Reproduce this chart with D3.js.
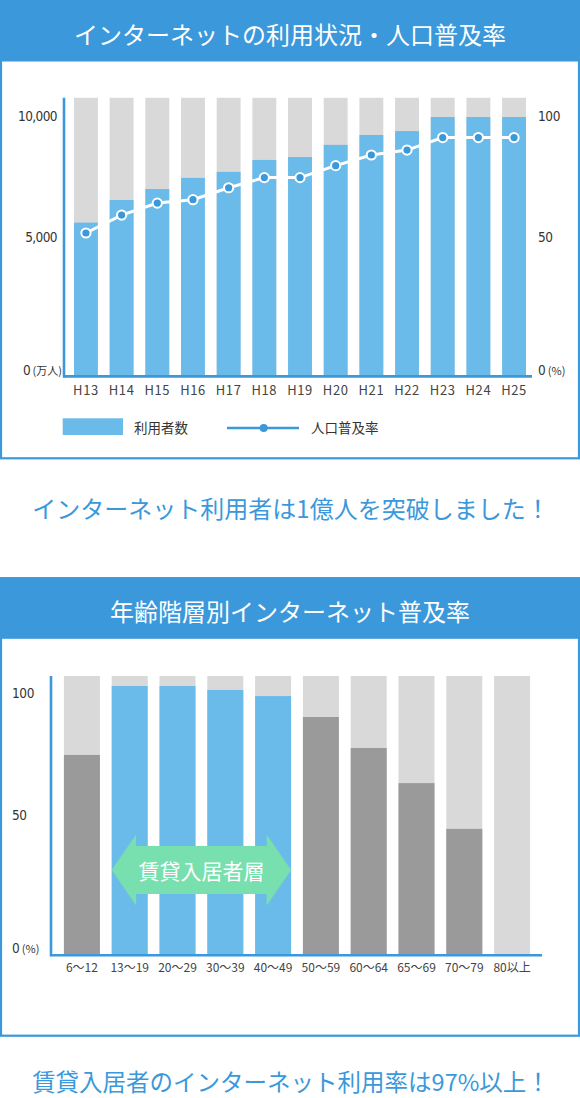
<!DOCTYPE html>
<html>
<head>
<meta charset="utf-8">
<script src="https://cdn.jsdelivr.net/npm/d3@7"></script>
<style>
  body { margin: 0; background: #fff; }
  svg { display: block; font-family: "Noto Sans CJK JP", "Noto Sans", sans-serif; }
</style>
</head>
<body>
<svg id="chart" width="580" height="1098"></svg>
<script>
// ---- data ----
var years = ["H13", "H14", "H15", "H16", "H17", "H18", "H19", "H20", "H21", "H22", "H23", "H24", "H25"];
var users = [5900, 6770, 7190, 7620, 7850, 8310, 8420, 8890, 9270, 9420, 9960, 9960, 9960];   // 万人
var rates = [55.0, 61.9, 66.5, 67.8, 72.4, 76.3, 76.3, 80.9, 85.0, 86.9, 91.7, 91.7, 91.7];     // %
var userMax = 10700;
var userTicks = [0, 5000, 10000];
var rateTicks = [0, 50, 100];

var ageGroups = ["6〜12", "13〜19", "20〜29", "30〜39", "40〜49", "50〜59", "60〜64", "65〜69", "70〜79", "80以上"];
var ageRates = [71.7, 96.4, 96.4, 95.0, 92.8, 85.3, 74.2, 61.6, 45.2, 0];
var renterGroups = ["13〜19", "20〜29", "30〜39", "40〜49"];
var ageTicks = [0, 50, 100];

// ---- colours ----
var blue = "#3a98db";
var barBlue = "#6bbbea";
var gray = "#d9d9d9";
var darkGray = "#9a9a9a";
var mint = "#78dfae";
var textColor = "#333";
var tickFont = '"Liberation Sans Narrow", "DejaVu Sans Condensed", Roboto, sans-serif';

var svg = d3.select("#chart");

// Panel with a blue header and a blue outline
function drawPanel(y0, h, title) {
    svg.append("rect")
        .attr("x", 1).attr("y", y0 + 1)
        .attr("width", 578).attr("height", h)
        .attr("fill", "#fff")
        .attr("stroke", blue).attr("stroke-width", 2.2);
    svg.append("rect")
        .attr("x", 0).attr("y", y0)
        .attr("width", 580).attr("height", 61.5)
        .attr("fill", blue);
    svg.append("text")
        .attr("x", 290).attr("y", y0 + 33)
        .attr("text-anchor", "middle")
        .attr("dominant-baseline", "central")
        .attr("fill", "#fff")
        .attr("font-size", 24)
        .text(title);
}

// Style the tick labels of an axis group
function styleTicks(g, size, anchor) {
    g.select(".domain").remove();
    g.attr("font-family", null).attr("font-size", null);
    g.selectAll("text")
        .attr("fill", textColor)
        .attr("font-size", size)
        .attr("text-anchor", anchor);
}

// =========== top chart ===========
drawPanel(0, 457.3, "インターネットの利用状況・人口普及率");

var xTop = d3.scaleBand()
    .domain(years)
    .range([64, 536])
    .paddingInner(0.33)
    .paddingOuter(0.28);
var bwTop = xTop.bandwidth();

var yUsers = d3.scaleLinear().domain([0, 10000]).range([376, 116]);
var yRate = d3.scaleLinear().domain([0, 100]).range([376, 116]);

// the tick labels in the reference sit a little off the bar scale
var yUsersLabel = d3.scaleLinear().domain([0, 5000, 10000]).range([370, 237, 116]);
var yRateLabel = d3.scaleLinear().domain([0, 50, 100]).range([370, 237, 116]);

var topData = years.map(function(y, i) {
    return {year: y, users: users[i], rate: rates[i]};
});

var topG = svg.append("g");

// background (max) bars
topG.append("g").attr("fill", gray)
    .selectAll("rect")
    .data(topData)
    .enter()
    .append("rect")
    .attr("x", function(d) { return xTop(d.year); })
    .attr("y", yUsers(userMax))
    .attr("width", bwTop)
    .attr("height", yUsers(0) - yUsers(userMax));

// user bars
topG.append("g").attr("fill", barBlue)
    .selectAll("rect")
    .data(topData)
    .enter()
    .append("rect")
    .attr("x", function(d) { return xTop(d.year); })
    .attr("y", function(d) { return yUsers(d.users); })
    .attr("width", bwTop)
    .attr("height", function(d) { return yUsers(0) - yUsers(d.users); });

// axis lines
topG.append("line")
    .attr("x1", 64).attr("x2", 64)
    .attr("y1", yUsers(userMax)).attr("y2", 377.5)
    .attr("stroke", blue).attr("stroke-width", 2.6);
topG.append("line")
    .attr("x1", 63).attr("x2", 532)
    .attr("y1", 376.4).attr("y2", 376.4)
    .attr("stroke", blue).attr("stroke-width", 2.6);

// penetration line
var rateLine = d3.line()
    .x(function(d) { return xTop(d.year) + bwTop / 2; })
    .y(function(d) { return yRate(d.rate); });

topG.append("path")
    .datum(topData)
    .attr("d", rateLine)
    .attr("fill", "none")
    .attr("stroke", "#fff")
    .attr("stroke-width", 3);

topG.append("g")
    .selectAll("circle")
    .data(topData)
    .enter()
    .append("circle")
    .attr("cx", function(d) { return xTop(d.year) + bwTop / 2; })
    .attr("cy", function(d) { return yRate(d.rate); })
    .attr("r", 4.6)
    .attr("fill", blue)
    .attr("stroke", "#fff")
    .attr("stroke-width", 2);

// left axis labels
var leftAxis = topG.append("g")
    .attr("transform", "translate(57,0)")
    .call(d3.axisLeft(yUsersLabel).tickValues(userTicks).tickSize(0).tickPadding(0)
        .tickFormat(d3.format(",")));
styleTicks(leftAxis, 13.5, "end");
leftAxis.selectAll("text").attr("font-family", tickFont).attr("letter-spacing", -0.6);
leftAxis.selectAll(".tick").filter(function(d) { return d === 0; })
    .select("text")
    .attr("x", 5)
    .append("tspan").attr("font-size", 11).attr("letter-spacing", 0)
    .attr("font-family", "Noto Sans CJK JP").text(" (万人)");

// right axis labels
var rightAxis = topG.append("g")
    .attr("transform", "translate(538,0)")
    .call(d3.axisRight(yRateLabel).tickValues(rateTicks).tickSize(0).tickPadding(0));
styleTicks(rightAxis, 13.5, "start");
rightAxis.selectAll("text").attr("font-family", tickFont).attr("letter-spacing", -0.4);
rightAxis.selectAll(".tick").filter(function(d) { return d === 0; })
    .select("text")
    .append("tspan").attr("font-size", 11).attr("letter-spacing", 0)
    .attr("font-family", "Noto Sans CJK JP").text(" (%)");

// year labels
var xAxisTop = topG.append("g")
    .attr("transform", "translate(0,376)")
    .call(d3.axisBottom(xTop).tickSize(0).tickPadding(9.5));
styleTicks(xAxisTop, 13, "middle");
xAxisTop.selectAll("text").attr("fill", "#444").attr("letter-spacing", 0.6);

// legend
var legend = svg.append("g").attr("font-size", 13.5).attr("fill", textColor);
legend.append("rect")
    .attr("x", 62.7).attr("y", 418.3)
    .attr("width", 60.3).attr("height", 16.7)
    .attr("fill", barBlue);
legend.append("text")
    .attr("x", 134).attr("y", 427)
    .attr("dominant-baseline", "central")
    .text("利用者数");
legend.append("line")
    .attr("x1", 227).attr("x2", 299)
    .attr("y1", 428).attr("y2", 428)
    .attr("stroke", blue).attr("stroke-width", 2.4);
legend.append("circle")
    .attr("cx", 263.7).attr("cy", 428).attr("r", 4)
    .attr("fill", blue);
legend.append("text")
    .attr("x", 311).attr("y", 427)
    .attr("dominant-baseline", "central")
    .text("人口普及率");

svg.append("text")
    .attr("x", 291).attr("y", 507.5)
    .attr("text-anchor", "middle")
    .attr("dominant-baseline", "central")
    .attr("fill", blue)
    .attr("font-size", 24)
    .text("インターネット利用者は1億人を突破しました！");

// =========== bottom chart ===========
drawPanel(577.3, 457.4, "年齢階層別インターネット普及率");

var xAge = d3.scaleBand()
    .domain(ageGroups)
    .range([51, 543])
    .paddingInner(0.247)
    .paddingOuter(0.27);
var bwAge = xAge.bandwidth();

var yAge = d3.scaleLinear().domain([0, 100]).range([955, 676]);
var yAgeLabel = d3.scaleLinear().domain([0, 50, 100]).range([948, 815, 693]);

var ageData = ageGroups.map(function(a, i) {
    return {group: a, rate: ageRates[i], renter: renterGroups.indexOf(a) >= 0};
});

var bottomG = svg.append("g");

bottomG.append("g").attr("fill", gray)
    .selectAll("rect")
    .data(ageData)
    .enter()
    .append("rect")
    .attr("x", function(d) { return xAge(d.group); })
    .attr("y", yAge(100))
    .attr("width", bwAge)
    .attr("height", yAge(0) - yAge(100));

bottomG.append("g")
    .selectAll("rect")
    .data(ageData)
    .enter()
    .append("rect")
    .attr("x", function(d) { return xAge(d.group); })
    .attr("y", function(d) { return yAge(d.rate); })
    .attr("width", bwAge)
    .attr("height", function(d) { return yAge(0) - yAge(d.rate); })
    .attr("fill", function(d) { return d.renter ? barBlue : darkGray; });

bottomG.append("line")
    .attr("x1", 51).attr("x2", 51)
    .attr("y1", yAge(100)).attr("y2", 956.3)
    .attr("stroke", blue).attr("stroke-width", 2.6);
bottomG.append("line")
    .attr("x1", 50).attr("x2", 542)
    .attr("y1", 955.2).attr("y2", 955.2)
    .attr("stroke", blue).attr("stroke-width", 2.6);

// arrow over the renter age groups
var arrowL = xAge(renterGroups[0]);
var arrowR = xAge(renterGroups[renterGroups.length - 1]) + bwAge;
var arrowY = 870, headH = 35.5, shaftH = 24, headW = 24.4;
var arrowPts = [
    [arrowL, arrowY],
    [arrowL + headW, arrowY - headH],
    [arrowL + headW, arrowY - shaftH],
    [arrowR - headW, arrowY - shaftH],
    [arrowR - headW, arrowY - headH],
    [arrowR, arrowY],
    [arrowR - headW, arrowY + headH],
    [arrowR - headW, arrowY + shaftH],
    [arrowL + headW, arrowY + shaftH],
    [arrowL + headW, arrowY + headH]
];
bottomG.append("polygon")
    .attr("points", arrowPts.map(function(p) { return p.join(","); }).join(" "))
    .attr("fill", mint);
bottomG.append("text")
    .attr("x", (arrowL + arrowR) / 2).attr("y", arrowY)
    .attr("text-anchor", "middle")
    .attr("dominant-baseline", "central")
    .attr("fill", "#fff")
    .attr("font-size", 21)
    .text("賃貸入居者層");

// y labels (left aligned)
var ageAxis = bottomG.append("g")
    .attr("transform", "translate(12,0)")
    .call(d3.axisRight(yAgeLabel).tickValues(ageTicks).tickSize(0).tickPadding(0));
styleTicks(ageAxis, 13.5, "start");
ageAxis.selectAll("text").attr("font-family", tickFont).attr("letter-spacing", -0.4);
ageAxis.selectAll(".tick").filter(function(d) { return d === 0; })
    .select("text")
    .append("tspan").attr("font-size", 11).attr("letter-spacing", 0)
    .attr("font-family", "Noto Sans CJK JP").text(" (%)");

var xAxisAge = bottomG.append("g")
    .attr("transform", "translate(0,955)")
    .call(d3.axisBottom(xAge).tickSize(0).tickPadding(8));
styleTicks(xAxisAge, 12, "middle");
xAxisAge.selectAll("text").attr("fill", "#444");

svg.append("text")
    .attr("x", 291).attr("y", 1081)
    .attr("text-anchor", "middle")
    .attr("dominant-baseline", "central")
    .attr("fill", blue)
    .attr("font-size", 23.5)
    .text("賃貸入居者のインターネット利用率は97%以上！");
</script>
</body>
</html>
